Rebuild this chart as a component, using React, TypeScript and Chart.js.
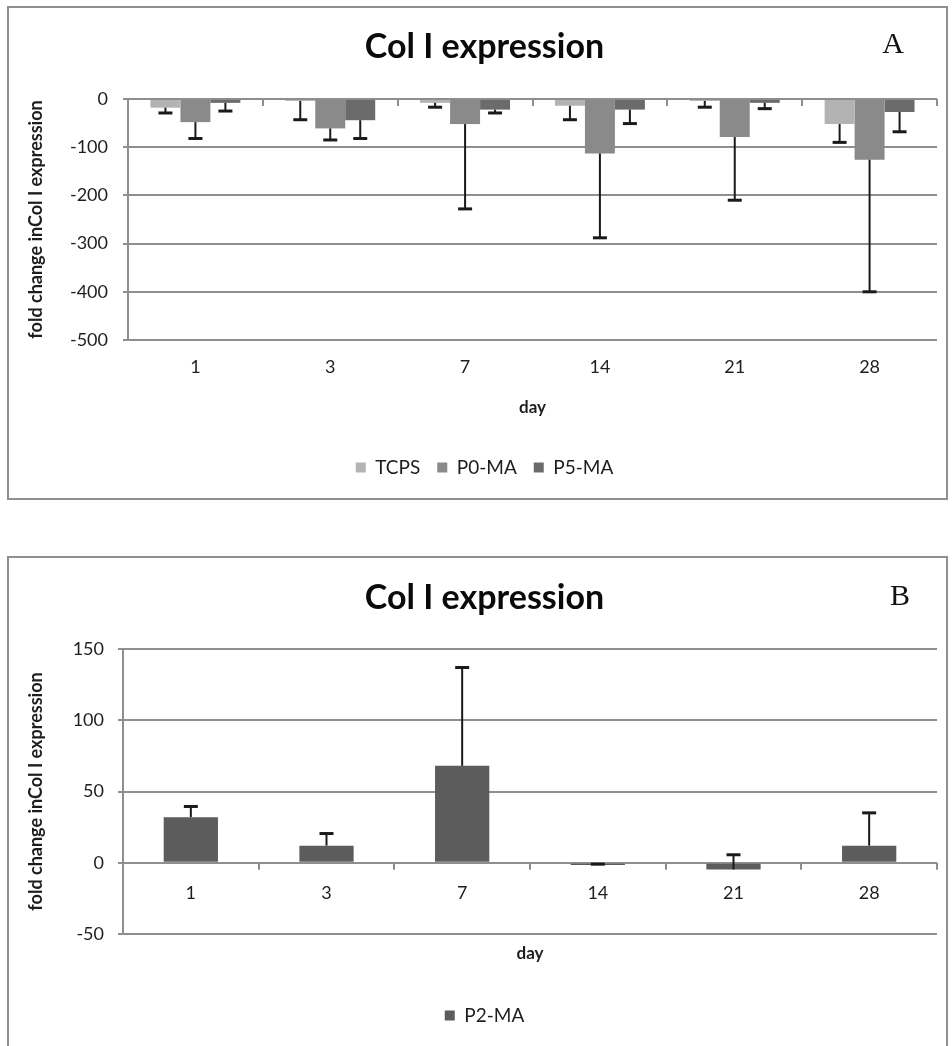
import React, { useEffect, useRef } from 'react';
import { Chart, registerables } from 'chart.js';

Chart.register(...registerables);

// ---------- data ----------
const days = ['1', '3', '7', '14', '21', '28'];

// Panel A (values are negative fold changes; error bars drawn away from zero)
const tcps = [-18, -4, -8, -14, -4, -52];
const tcpsErr = [11, 39, 9, 29, 13, 38];
const p0ma = [-48, -61, -52, -113, -79, -126];
const p0maErr = [34, 24, 176, 175, 131, 274];
const p5ma = [-8, -44, -22, -22, -8, -27];
const p5maErr = [17, 38, 7, 29, 12, 41];

// Panel B (error bars drawn in + direction)
const p2ma = [32, 12, 68, -1.5, -4.7, 12];
const p2maErr = [7.5, 8.5, 69, 0.5, 10.3, 23];

const yRangeA = { min: -500, max: 0, step: 100 };
const yRangeB = { min: -50, max: 150, step: 50 };

const titleText = 'Col I expression';
const yTitleText = 'fold change inCol I expression';
const xTitleText = 'day';

// ---------- styles ----------
const GRID = '#8e8e8e';
const TEXT = '#1e1e1e';
Chart.defaults.font.family = 'Lato, "Open Sans", sans-serif';
Chart.defaults.color = TEXT;

// ---------- plugins ----------
const errorBarPlugin = {
  id: 'errorBars',
  afterDatasetsDraw(chart: any) {
    const { ctx } = chart;
    const y = chart.scales.y;
    chart.data.datasets.forEach((ds: any, di: number) => {
      if (!ds.errors) return;
      const meta = chart.getDatasetMeta(di);
      meta.data.forEach((bar: any, i: number) => {
        const v = ds.data[i];
        const end = v + ds.errorDir * ds.errors[i];
        const x = bar.x;
        const y0 = y.getPixelForValue(v);
        const y1 = y.getPixelForValue(end);
        ctx.save();
        ctx.strokeStyle = '#1a1a1a';
        ctx.lineWidth = 2;
        ctx.beginPath();
        ctx.moveTo(x, y0);
        ctx.lineTo(x, y1);
        ctx.stroke();
        ctx.lineWidth = 3;
        ctx.beginPath();
        ctx.moveTo(x - 7, y1);
        ctx.lineTo(x + 7, y1);
        ctx.stroke();
        ctx.restore();
      });
    });
  },
};

const zeroTicksPlugin = {
  id: 'zeroTicks',
  beforeDatasetsDraw(chart: any) {
    const { ctx } = chart;
    const x = chart.scales.x;
    const y = chart.scales.y;
    const y0 = y.getPixelForValue(0);
    const n = chart.data.labels.length;
    ctx.save();
    ctx.strokeStyle = GRID;
    ctx.lineWidth = 2;
    ctx.beginPath();
    for (let i = 0; i <= n; i++) {
      const px = Math.round(x.getPixelForValue(i - 0.5));
      ctx.moveTo(px, y0);
      ctx.lineTo(px, y0 + 7);
    }
    ctx.stroke();
    ctx.restore();
  },
};

const cornerLabelPlugin = {
  id: 'cornerLabel',
  afterDraw(chart: any, _args: any, opts: any) {
    if (!opts || !opts.text) return;
    const { ctx } = chart;
    ctx.save();
    ctx.font = '30px "Liberation Serif", "DejaVu Serif", serif';
    ctx.fillStyle = '#111';
    ctx.textAlign = 'center';
    ctx.textBaseline = 'middle';
    ctx.fillText(opts.text, opts.x, opts.y);
    ctx.restore();
  },
};

// ---------- config builder ----------
function makeConfig(p: {
  datasets: any[];
  range: { min: number; max: number; step: number };
  yWidth: number;
  yTickPad: number;
  xHeight: number;
  xTickPad: number;
  xTickMirror: boolean;
  xTitlePad: number;
  titlePadTop: number;
  titlePadBottom: number;
  bottomPad: number;
  categoryPercentage: number;
  corner: { text: string; x: number; y: number };
}) {
  return {
    type: 'bar',
    data: { labels: days, datasets: p.datasets },
    plugins: [zeroTicksPlugin, errorBarPlugin, cornerLabelPlugin],
    options: {
      responsive: false,
      animation: false,
      events: [],
      layout: { padding: { left: 24, right: 10, top: 0, bottom: p.bottomPad } },
      datasets: {
        bar: { categoryPercentage: p.categoryPercentage, barPercentage: 1, borderWidth: 0 },
      },
      scales: {
        x: {
          type: 'category',
          grid: { display: false, drawTicks: false },
          border: { display: false },
          ticks: { padding: p.xTickPad, mirror: p.xTickMirror, font: { size: 18 }, color: TEXT },
          title: {
            display: true,
            text: xTitleText,
            font: { size: 17, weight: 'bold' },
            color: TEXT,
            padding: { top: 0, bottom: p.xTitlePad },
          },
          afterFit: (s: any) => {
            s.height = p.xHeight;
          },
        },
        y: {
          min: p.range.min,
          max: p.range.max,
          ticks: { stepSize: p.range.step, padding: p.yTickPad, font: { size: 18 }, color: TEXT },
          grid: { color: GRID, lineWidth: 2, tickLength: 5, drawTicks: true },
          border: { display: true, color: GRID, width: 2 },
          title: {
            display: true,
            text: yTitleText,
            font: { size: 18, weight: 'bold' },
            color: TEXT,
            padding: { top: -6.8, bottom: 0 },
          },
          afterFit: (s: any) => {
            s.width = p.yWidth;
          },
        },
      },
      plugins: {
        tooltip: { enabled: false },
        title: {
          display: true,
          text: titleText,
          font: { size: 34, weight: 'bold' },
          color: '#0a0a0a',
          padding: { top: p.titlePadTop, bottom: p.titlePadBottom },
        },
        legend: {
          display: true,
          position: 'bottom',
          labels: { boxWidth: 10, boxHeight: 10, padding: 17, font: { size: 19 }, color: TEXT },
        },
        cornerLabel: p.corner,
      },
    },
  };
}

// title block: padTop + 34*1.2 (40.8) + padBottom = chart-area top
const configA = () =>
  makeConfig({
    datasets: [
      { label: 'TCPS', data: tcps, errors: tcpsErr, errorDir: -1, backgroundColor: '#b3b3b3' },
      { label: 'P0-MA', data: p0ma, errors: p0maErr, errorDir: -1, backgroundColor: '#8a8a8a' },
      { label: 'P5-MA', data: p5ma, errors: p5maErr, errorDir: -1, backgroundColor: '#6b6b6b' },
    ],
    range: yRangeA,
    yWidth: 96,
    yTickPad: 15,
    xHeight: 101,
    xTickPad: 16,
    xTickMirror: false,
    xTitlePad: 22.8,
    titlePadTop: 20.6,
    titlePadBottom: 31.6,
    bottomPad: 12,
    categoryPercentage: 0.667,
    corner: { text: 'A', x: 885, y: 39 },
  });

const configB = () =>
  makeConfig({
    datasets: [
      { label: 'P2-MA', data: p2ma, errors: p2maErr, errorDir: 1, backgroundColor: '#5c5c5c' },
    ],
    range: yRangeB,
    yWidth: 91,
    yTickPad: 14,
    xHeight: 55,
    xTickPad: 30.2,
    xTickMirror: true,
    xTitlePad: 24.8,
    titlePadTop: 20.6,
    titlePadBottom: 30.6,
    bottomPad: 11,
    categoryPercentage: 0.4,
    corner: { text: 'B', x: 892, y: 40 },
  });

function ChartCanvas(props: { make: () => any; left: number; top: number; width: number; height: number }) {
  const ref = useRef<HTMLCanvasElement>(null);
  useEffect(() => {
    const chart = new Chart(ref.current as HTMLCanvasElement, props.make() as any);
    return () => chart.destroy();
  }, []);
  return (
    <canvas
      ref={ref}
      width={props.width}
      height={props.height}
      style={{ position: 'absolute', left: props.left, top: props.top, width: props.width, height: props.height }}
    />
  );
}

export default function App() {
  const frame = (left: number, top: number, w: number, h: number) => ({
    position: 'absolute' as const,
    left,
    top,
    width: w,
    height: h,
    border: '2px solid #8f8f8f',
    boxSizing: 'border-box' as const,
    pointerEvents: 'none' as const,
  });
  return (
    <div style={{ position: 'absolute', left: 0, top: 0, width: 952, height: 1046, background: '#fff', overflow: 'hidden' }}>
      <ChartCanvas make={configA} left={8} top={6} width={939} height={493} />
      <ChartCanvas make={configB} left={8} top={557} width={939} height={489} />
      <div style={frame(7, 6, 941, 494)} />
      <div style={frame(7, 556, 941, 492)} />
    </div>
  );
}
